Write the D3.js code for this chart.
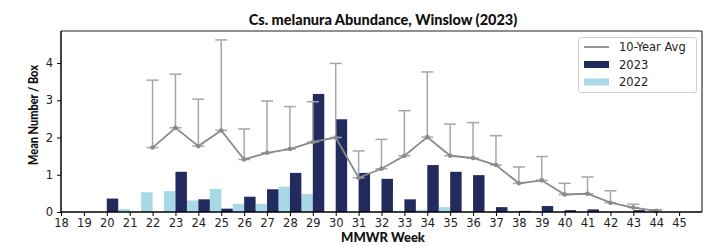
<!DOCTYPE html>
<html><head><meta charset="utf-8">
<script src="https://cdn.jsdelivr.net/npm/d3@7/dist/d3.min.js"></script>
<style>
body{margin:0;background:#fff;}
svg{display:block;}
</style></head>
<body>
<svg id="chart" width="707" height="246"></svg>
<script>
// ---- data ----
const weeks = d3.range(18, 46);
const tickLabels = weeks.map(String);
const vals2023 = [0,0,0.36,0,0,1.08,0.34,0.09,0.41,0.61,1.05,3.17,2.49,1.05,0.89,0.34,1.26,1.08,0.99,0.13,0.03,0.16,0.05,0.07,0,0.05,0,0];
const vals2022 = [0,0,0,0.08,0.53,0.56,0.31,0.62,0.22,0.22,0.68,0.48,0,0,0,0.03,0.06,0.13,0,0,0.03,0.02,0,0,0,0,0,0];
const avgWeeks = d3.range(22, 45);
const avgMean = [1.73,2.26,1.77,2.19,1.41,1.59,1.69,1.88,2.00,0.92,1.16,1.51,2.01,1.51,1.45,1.26,0.77,0.85,0.47,0.49,0.25,0.12,0.03];
const avgUpper = [3.54,3.70,3.03,4.62,2.23,2.98,2.83,2.96,3.99,1.64,1.95,2.72,3.76,2.36,2.40,2.05,1.21,1.49,0.77,0.94,0.57,0.21,0.06];
const yTicks = [0,1,2,3,4];
const seriesNames = ["10-Year Avg","2023","2022"];

const C2023 = "#232a5e", C2022 = "#a9d8e6", CLINE = "#8a8a8a", CERR = "#a6a6a6";
const svg = d3.select("#chart");
const L = 61, R = 702, T = 31, B = 212;
const x = d3.scaleLinear().domain([18, 46]).range([L, R]);
const y = d3.scaleLinear().domain([0, 4.86]).range([B, T]);
const bw = x(18.5) - x(18);

// bars 2022 (left of tick)
svg.append("g").selectAll("rect").data(weeks.map((w,i)=>({w, v:vals2022[i]})).filter(d=>d.v>0))
  .join("rect").attr("x", d=>x(d.w-0.5)).attr("width", bw)
  .attr("y", d=>y(d.v)).attr("height", d=>y(0)-y(d.v)).attr("fill", C2022);
// bars 2023 (right of tick)
svg.append("g").selectAll("rect").data(weeks.map((w,i)=>({w, v:vals2023[i]})).filter(d=>d.v>0))
  .join("rect").attr("x", d=>x(d.w)).attr("width", bw)
  .attr("y", d=>y(d.v)).attr("height", d=>y(0)-y(d.v)).attr("fill", C2023);

// error bars
const avg = avgWeeks.map((w,i)=>({w, m:avgMean[i], u:avgUpper[i]}));
const eg = svg.append("g").attr("stroke", CERR).attr("stroke-width", 1.5).attr("fill","none");
avg.forEach(d=>{
  eg.append("line").attr("x1", x(d.w)).attr("x2", x(d.w)).attr("y1", y(d.m)).attr("y2", y(d.u));
  [d.m, d.u].forEach(v=>eg.append("line").attr("x1", x(d.w)-6).attr("x2", x(d.w)+6).attr("y1", y(v)).attr("y2", y(v)));
});
// avg line
svg.append("path").datum(avg).attr("fill","none").attr("stroke", CLINE).attr("stroke-width", 1.8)
  .attr("d", d3.line().x(d=>x(d.w)).y(d=>y(d.m)));
svg.append("g").selectAll("circle").data(avg).join("circle")
  .attr("cx", d=>x(d.w)).attr("cy", d=>y(d.m)).attr("r", 2.3).attr("fill", CLINE);

// frame
svg.append("line").attr("x1",L).attr("x2",R).attr("y1",T).attr("y2",T).attr("stroke","#6a6a6a").attr("stroke-width",1.3);
svg.append("line").attr("x1",R).attr("x2",R).attr("y1",T).attr("y2",B).attr("stroke","#444").attr("stroke-width",1.3);

// axes
const xAxis = svg.append("g").attr("transform", `translate(0,${B})`)
  .call(d3.axisBottom(x).tickValues(weeks).tickFormat((d,i)=>tickLabels[i]).tickSize(4).tickPadding(3));
const yAxis = svg.append("g").attr("transform", `translate(${L},0)`)
  .call(d3.axisLeft(y).tickValues(yTicks).tickFormat(d3.format("d")).tickSize(4).tickPadding(4));
[xAxis, yAxis].forEach(a=>{
  a.select(".domain").attr("stroke","#000").attr("stroke-width",1.5);
  a.selectAll(".tick line").attr("stroke","#000").attr("stroke-width",1);
  a.selectAll("text").attr("font-family","DejaVu Sans").attr("font-size",11.5).attr("fill","#222");
});
xAxis.select(".domain").attr("d", `M${L},0H${R}`);
yAxis.select(".domain").attr("d", `M0,${B}V${T}`);

// title & labels (condensed to match narrow bold face)
function fit(sel, w){ const n = sel.node(); const l = n.getComputedTextLength(); if(l>w) sel.attr("textLength", w).attr("lengthAdjust","spacingAndGlyphs"); }
const title = svg.append("text").attr("x", 383).attr("y", 25).attr("text-anchor","middle")
  .attr("font-family","Lato").attr("font-weight","900").attr("font-size",14.5).attr("fill","#111")
  .text("Cs. melanura Abundance, Winslow (2023)");
fit(title, 301);
const xl = svg.append("text").attr("x", 383).attr("y", 242).attr("text-anchor","middle")
  .attr("font-family","Lato").attr("font-weight","900").attr("font-size",13).attr("fill","#111")
  .text("MMWR Week");
fit(xl, 85);
const yl = svg.append("text").attr("transform","translate(38,115) rotate(-90)").attr("text-anchor","middle")
  .attr("font-family","Lato").attr("font-weight","900").attr("font-size",13).attr("fill","#111")
  .text("Mean Number / Box");
fit(yl, 100);

// legend
const lg = svg.append("g");
lg.append("rect").attr("x",578.5).attr("y",37.5).attr("width",118).attr("height",55).attr("rx",2.5)
  .attr("fill","#fff").attr("fill-opacity",0.85).attr("stroke","#d0d0d0");
const rowsY = [47, 64.5, 82];
lg.append("line").attr("x1",584).attr("x2",609).attr("y1",rowsY[0]).attr("y2",rowsY[0]).attr("stroke",CLINE).attr("stroke-width",1.8);
lg.append("rect").attr("x",584).attr("y",rowsY[1]-3.5).attr("width",25).attr("height",7).attr("fill",C2023);
lg.append("rect").attr("x",584).attr("y",rowsY[2]-3.5).attr("width",25).attr("height",7).attr("fill",C2022);
seriesNames.forEach((s,i)=>lg.append("text").attr("x",619).attr("y",rowsY[i]).attr("dy","0.35em")
  .attr("font-family","DejaVu Sans").attr("font-size",11.5).attr("fill","#222").text(s));
</script>
</body></html>
